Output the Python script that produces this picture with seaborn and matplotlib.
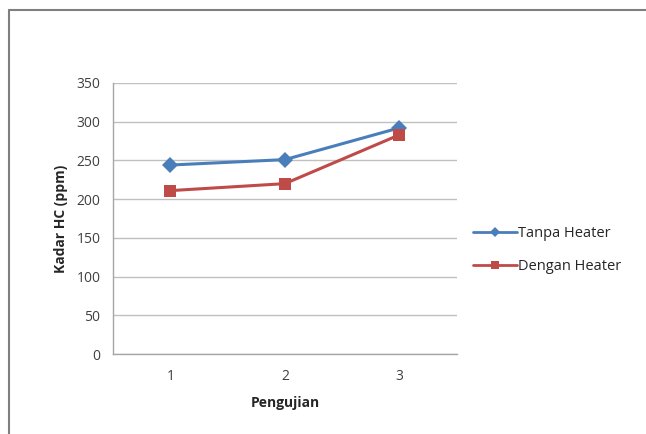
import matplotlib
matplotlib.use("Agg")
import matplotlib.pyplot as plt
import seaborn as sns
import pandas as pd
from matplotlib.lines import Line2D

pengujian = [1, 2, 3]
tanpa_heater = [244, 251, 292]
dengan_heater = [211, 220, 283]
series_names = ["Tanpa Heater", "Dengan Heater"]
y_ticks = [0, 50, 100, 150, 200, 250, 300, 350]

df = pd.DataFrame({
    "Pengujian": pengujian * 2,
    "Kadar": tanpa_heater + dengan_heater,
    "Seri": [series_names[0]] * 3 + [series_names[1]] * 3,
})

sns.set_style("white")
plt.rcParams["font.family"] = ["Open Sans", "DejaVu Sans"]

fig = plt.figure(figsize=(6.46, 4.34), dpi=100)
ax = fig.add_axes([0.175, 0.184, 0.532, 0.625])

palette = {series_names[0]: "#4a7ebb", series_names[1]: "#be4b48"}
sns.lineplot(data=df, x="Pengujian", y="Kadar", hue="Seri", style="Seri",
             markers={series_names[0]: "D", series_names[1]: "s"},
             dashes=False, palette=palette, linewidth=2.2,
             markersize=8, markeredgewidth=0, ax=ax)

ax.set_xlim(0.5, 3.5)
ax.set_ylim(0, 350)
ax.set_yticks(y_ticks)
ax.set_xticks(pengujian)
ax.grid(axis="y", color="#c0c0c0", linewidth=1)
ax.set_axisbelow(True)
for s in ["top", "right"]:
    ax.spines[s].set_visible(False)
for s in ["left", "bottom"]:
    ax.spines[s].set_color("#a6a6a6")
    ax.spines[s].set_linewidth(1)
ax.tick_params(axis="both", labelsize=10, colors="#404040")
ax.tick_params(axis="y", length=4, width=1, color="#a6a6a6", direction="out", pad=5)
ax.tick_params(axis="x", length=0, pad=11)
ax.set_xlabel("Pengujian", fontsize=10, fontweight="bold", color="#262626", labelpad=8)
ax.set_ylabel("Kadar HC (ppm)", fontsize=10, fontweight="bold", color="#262626", labelpad=6)

ax.get_legend().remove()
handles = [Line2D([], [], color="#4a7ebb", marker="D", markersize=5, linewidth=2, markeredgewidth=0),
           Line2D([], [], color="#be4b48", marker="s", markersize=6, linewidth=2, markeredgewidth=0)]
fig.legend(handles, series_names, loc="center left", bbox_to_anchor=(0.712, 0.424),
           frameon=False, fontsize=10.5, handlelength=3.0, handletextpad=0.1,
           labelspacing=1.2, labelcolor="#262626")

# outer chart border
fig.add_artist(Line2D([9 / 646, 1.0], [1 - 10 / 434, 1 - 10 / 434], transform=fig.transFigure,
                      color="#7f7f7f", linewidth=1.5))
fig.add_artist(Line2D([9 / 646, 9 / 646], [0, 1 - 10 / 434], transform=fig.transFigure,
                      color="#7f7f7f", linewidth=1.5))

fig.savefig("out.png", dpi=100)
